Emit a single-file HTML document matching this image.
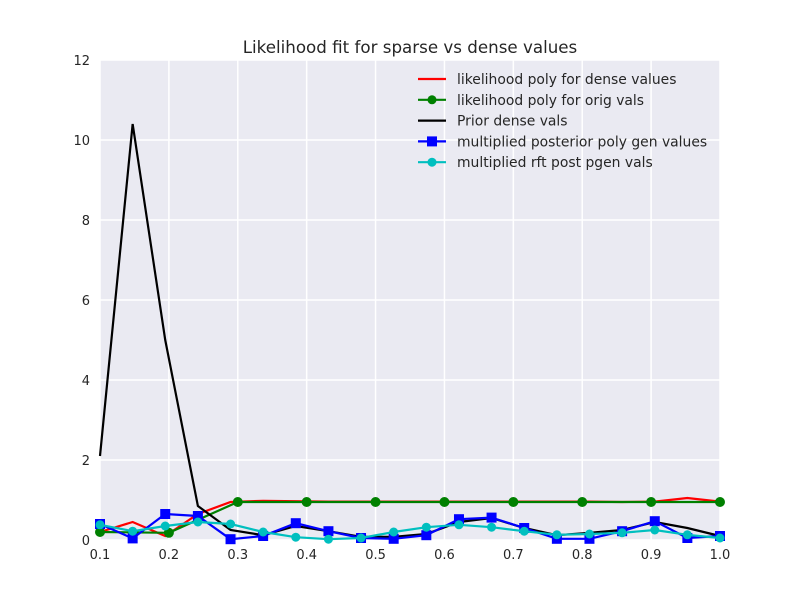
<!DOCTYPE html>
<html><head><meta charset="utf-8"><style>
body{margin:0;background:#fff;font-family:"DejaVu Sans","Liberation Sans",sans-serif}
</style></head><body>
<svg id="chart" width="800" height="600" font-family="DejaVu Sans, Liberation Sans, sans-serif">
<rect x="100" y="60" width="620" height="480" fill="#eaeaf2"/>
<g id="grid"></g><g id="ticks"></g><g id="series"></g>
<text x="410" y="53" text-anchor="middle" font-size="16.7" fill="#262626">Likelihood fit for sparse vs dense values</text>
<g id="legend"></g>
</svg>
<script>
const xDense = [0.1,0.1474,0.1947,0.2421,0.2895,0.3368,0.3842,0.4316,0.4789,0.5263,0.5737,0.6211,0.6684,0.7158,0.7632,0.8105,0.8579,0.9053,0.9526,1.0];
const redVals = [0.2,0.45,0.1,0.65,0.95,0.98,0.97,0.96,0.96,0.96,0.96,0.96,0.96,0.96,0.96,0.96,0.95,0.96,1.05,0.96];
const xOrig = [0.1,0.2,0.3,0.4,0.5,0.6,0.7,0.8,0.9,1.0];
const greenVals = [0.2,0.18,0.95,0.95,0.95,0.95,0.95,0.95,0.95,0.95];
const blackVals = [2.1,10.4,5.0,0.85,0.25,0.12,0.35,0.22,0.08,0.08,0.15,0.45,0.55,0.3,0.12,0.18,0.25,0.45,0.3,0.1];
const blueVals = [0.4,0.04,0.65,0.6,0.02,0.1,0.42,0.22,0.05,0.03,0.12,0.52,0.56,0.3,0.03,0.03,0.22,0.47,0.05,0.1];
const cyanVals = [0.38,0.22,0.35,0.45,0.4,0.2,0.07,0.02,0.05,0.2,0.32,0.38,0.32,0.22,0.13,0.15,0.18,0.25,0.13,0.05];
const xTicks = ["0.1","0.2","0.3","0.4","0.5","0.6","0.7","0.8","0.9","1.0"];
const yTicks = [0,2,4,6,8,10,12];
const NS="http://www.w3.org/2000/svg";
const X=v=>100+(v-0.1)/0.9*620, Y=v=>540-v*40;
function mk(t,a,p){const e=document.createElementNS(NS,t);for(const k in a)e.setAttribute(k,a[k]);p.appendChild(e);return e;}
const grid=document.getElementById('grid'),ticks=document.getElementById('ticks'),ser=document.getElementById('series'),leg=document.getElementById('legend');
xTicks.forEach(t=>{const v=parseFloat(t);
 const l=mk('line',{x1:X(v),x2:X(v),y1:60,y2:540,stroke:'#fff','stroke-width':1.5},grid);
 
 
 const tx=mk('text',{x:X(v),y:559,'text-anchor':'middle','font-size':13,fill:'#262626'},ticks);tx.textContent=t;
 
 });
yTicks.forEach(v=>{
 const l=mk('line',{x1:100,x2:720,y1:Y(v),y2:Y(v),stroke:'#fff','stroke-width':1.5},grid);
 
 
 const tx=mk('text',{x:90,y:Y(v)+5,'text-anchor':'end','font-size':13,fill:'#262626'},ticks);tx.textContent=v;
 
 });
function line(xs,ys,color,name,marker){
 const g=mk('g',{},ser);
 
 
 mk('polyline',{points:xs.map((x,i)=>X(x)+','+Y(ys[i])).join(' '),fill:'none',stroke:color,'stroke-width':2.2},g);
 if(marker)xs.forEach((x,i)=>{let m;
  if(marker==='s')m=mk('rect',{x:X(x)-5,y:Y(ys[i])-5,width:10,height:10,fill:color},g);
  else m=mk('circle',{cx:X(x),cy:Y(ys[i]),r:marker==='o'?5:4.5,fill:color},g);
  
  });
}
line(xDense,redVals,'#ff0000','red-series',null);
line(xOrig,greenVals,'#008000','green-series','o');
line(xDense,blackVals,'#000000','black-series',null);
line(xDense,blueVals,'#0000ff','blue-series','s');
line(xDense,cyanVals,'#00bfbf','cyan-series','c');
const legItems=[["likelihood poly for dense values",'#ff0000',null],["likelihood poly for orig vals",'#008000','o'],["Prior dense vals",'#000000',null],["multiplied posterior poly gen values",'#0000ff','s'],["multiplied rft post pgen vals",'#00bfbf','c']];
legItems.forEach((it,i)=>{const y=79+i*20.8;
 const g=mk('g',{},leg);
 
 
 mk('line',{x1:418,x2:446,y1:y,y2:y,stroke:it[1],'stroke-width':2.2},g);
 if(it[2]==='s')mk('rect',{x:427,y:y-5,width:10,height:10,fill:it[1]},g);
 else if(it[2])mk('circle',{cx:432,cy:y,r:4.5,fill:it[1]},g);
 const t=mk('text',{x:457,y:y+5,'font-size':13.9,fill:'#262626'},g);t.textContent=it[0];});
</script>
</body></html>
